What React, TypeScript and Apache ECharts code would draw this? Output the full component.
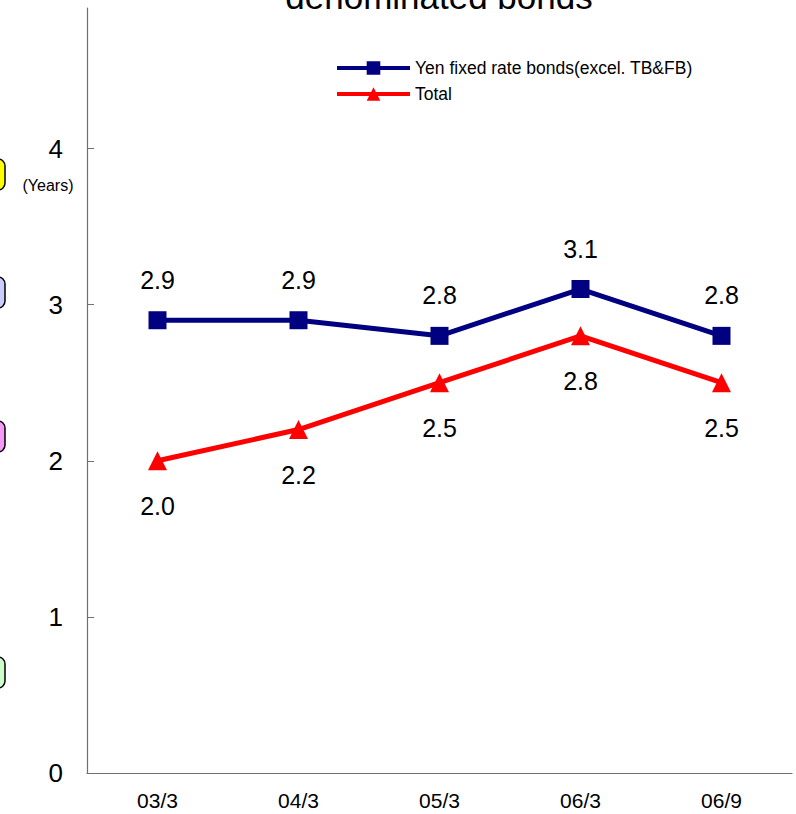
import React, { useEffect, useRef } from "react";
import * as echarts from "echarts";

const categories = ["03/3", "04/3", "05/3", "06/3", "06/9"];
const yenFixed = [2.9, 2.9, 2.8, 3.1, 2.8];
const total = [2.0, 2.2, 2.5, 2.8, 2.5];
const yTicks = [0, 1, 2, 3, 4];
const seriesNames = ["Yen fixed rate bonds(excel. TB&FB)", "Total"];
const sideBoxColors = ["#FFFF00", "#CCCCFF", "#F59BF5", "#CCFFCC"];

const SANS = '"Liberation Sans", Arial, sans-serif';

export default function App() {
  const ref = useRef<HTMLDivElement>(null);

  useEffect(() => {
    if (!ref.current) return;
    const chart = echarts.init(ref.current, null, { renderer: "svg" });

    const boxTops = [159, 277, 421, 657];
    const sideBoxes = sideBoxColors.map((c, i) => ({
      type: "rect",
      shape: { x: -40, y: boxTops[i], width: 45, height: 31, r: 7 },
      style: { fill: c, stroke: "#000", lineWidth: 1.5 },
      z: 10,
    }));

    chart.setOption({
      animation: false,
      backgroundColor: "#fff",
      grid: { left: 87, right: 4, top: 8, bottom: 41, containLabel: false },
      legend: {
        orient: "vertical",
        left: 335,
        top: 59,
        padding: 0,
        itemWidth: 73,
        itemHeight: 17,
        itemGap: 8,
        data: [
          { name: seriesNames[0], itemStyle: { color: "#000080" }, lineStyle: { width: 4, color: "#000080" } },
          { name: seriesNames[1], itemStyle: { color: "#FF0000" }, lineStyle: { width: 4, color: "#FF0000" } },
        ],
        textStyle: { fontFamily: SANS, fontSize: 17.5, color: "#000" },
      },
      graphic: [
        {
          type: "text",
          x: 439,
          y: -4,
          style: {
            text: "denominated bonds",
            fill: "#000",
            font: `35px ${SANS}`,
            align: "center",
            verticalAlign: "middle",
          },
        },
        {
          type: "text",
          x: 48,
          y: 185,
          style: {
            text: "(Years)",
            fill: "#000",
            font: `16px ${SANS}`,
            align: "center",
            verticalAlign: "middle",
          },
        },
        ...sideBoxes,
      ],
      xAxis: {
        type: "category",
        data: categories,
        boundaryGap: true,
        axisLine: { lineStyle: { color: "#707070", width: 1.2 } },
        axisTick: { inside: true, length: 8, lineStyle: { color: "#707070" } },
        axisLabel: { fontFamily: SANS, fontSize: 21, color: "#000", margin: 17 },
      },
      yAxis: {
        type: "value",
        min: 0,
        max: 4.9,
        interval: 1,
        splitLine: { show: false },
        axisLine: { show: true, lineStyle: { color: "#707070", width: 1.2 } },
        axisTick: {
          show: true,
          inside: true,
          length: 7,
          customValues: yTicks,
          lineStyle: { color: "#707070" },
        },
        axisLabel: {
          customValues: yTicks,
          fontFamily: SANS,
          fontSize: 26,
          color: "#000",
          margin: 24,
        },
      },
      series: [
        {
          name: seriesNames[0],
          type: "line",
          data: yenFixed,
          color: "#000080",
          symbol: "rect",
          symbolSize: 18,
          lineStyle: { width: 5, color: "#000080" },
          itemStyle: { color: "#000080" },
          label: {
            show: true,
            position: "top",
            distance: 19,
            formatter: (p: any) => Number(p.value).toFixed(1),
            fontFamily: SANS,
            fontSize: 25,
            color: "#000",
          },
          z: 3,
        },
        {
          name: seriesNames[1],
          type: "line",
          data: total,
          color: "#FF0000",
          symbol: "triangle",
          symbolSize: 19,
          lineStyle: { width: 5, color: "#FF0000" },
          itemStyle: { color: "#FF0000" },
          label: {
            show: true,
            position: "bottom",
            distance: 23,
            formatter: (p: any) => Number(p.value).toFixed(1),
            fontFamily: SANS,
            fontSize: 25,
            color: "#000",
          },
          z: 2,
        },
      ],
    });

    return () => chart.dispose();
  }, []);

  return (
    <div
      ref={ref}
      style={{ position: "absolute", left: 0, top: 0, width: 796, height: 814 }}
    />
  );
}
